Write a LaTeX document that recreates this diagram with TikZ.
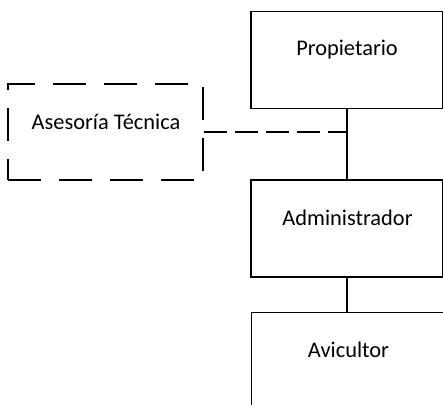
\documentclass[tikz,border=0pt]{standalone}
\usepackage{fontspec}
\setmainfont{Carlito}
\tikzset{
  caja/.style={draw,line width=1.6pt,minimum width=192pt,minimum height=97pt,inner sep=0pt},
  cajapunteada/.style={draw,line width=1.6pt,dash pattern=on 33pt off 18pt,minimum width=195pt,minimum height=96pt,inner sep=0pt},
  texto/.style={font=\fontsize{22.4}{26}\selectfont,inner sep=0pt}
}
\begin{document}
\begin{tikzpicture}[x=1pt,y=-1pt]
\useasboundingbox (0,0) rectangle (443,404);
\clip (0,0) rectangle (443,404);
\node[caja] (prop) at (347,60) {};
\node[caja] (admin) at (347,228.5) {};
\node[caja] (avic) at (347.5,361) {};
\node[cajapunteada] (ases) at (105.5,132) {};
\node[texto] (tprop) at (347,50) {Propietario};
\node[texto] (tadmin) at (347.5,218) {Administrador};
\node[texto] (tavic) at (348.5,350) {Avicultor};
\node[texto] (tases) at (106,122) {Asesoría Técnica};
\coordinate (union) at (347,132);
\draw[line width=1.6pt](prop.south)--(admin.north);
\draw[line width=1.6pt]([xshift=-0.5pt]avic.north)--([xshift=-0.5pt]avic.north|-admin.south);
\draw[line width=1.6pt,dash pattern=on 23pt off 8pt](ases.east)--(union);
\end{tikzpicture}
\end{document}
